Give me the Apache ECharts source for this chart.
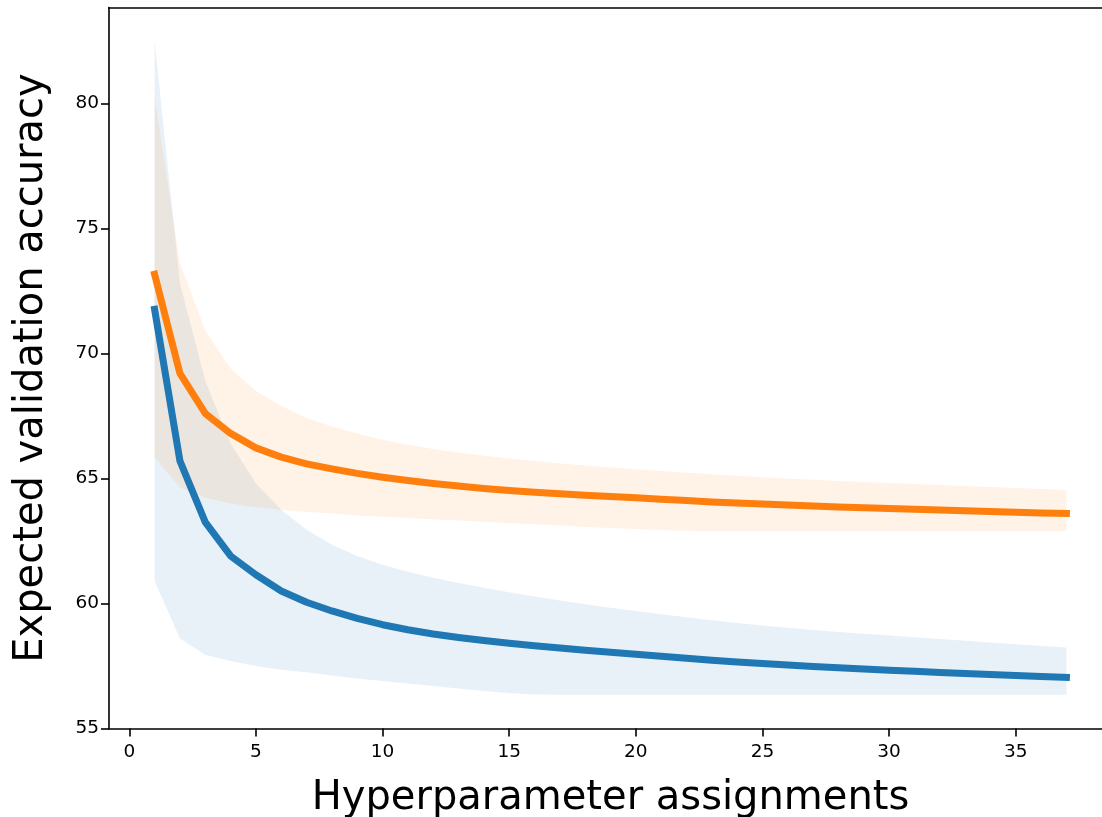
<!DOCTYPE html>
<html>
<head>
<meta charset="utf-8">
<script src="https://cdn.jsdelivr.net/npm/echarts@6/dist/echarts.min.js"></script>
<style>
  html, body { margin: 0; padding: 0; background: #fff; overflow: hidden; }
  #chart { width: 1102px; height: 817px; }
</style>
</head>
<body>
<div id="chart"></div>
<script>
// Number of hyperparameter assignments (x values)
const steps = [1, 2, 3, 4, 5, 6, 7, 8, 9, 10, 11, 12, 13, 14, 15, 16, 17, 18, 19,
               20, 21, 22, 23, 24, 25, 26, 27, 28, 29, 30, 31, 32, 33, 34, 35, 36, 37];

// Blue model: expected validation accuracy and its band
const blueMean  = [71.76, 65.7, 63.25, 61.9, 61.15, 60.5, 60.05, 59.7, 59.4, 59.15, 58.95, 58.78, 58.64, 58.52, 58.41, 58.31, 58.22, 58.13, 58.05,
                   57.97, 57.89, 57.81, 57.73, 57.66, 57.6, 57.54, 57.48, 57.43, 57.38, 57.33, 57.29, 57.24, 57.2, 57.16, 57.12, 57.08, 57.04];
const blueUpper = [82.5, 72.8, 68.9, 66.4, 64.8, 63.75, 62.95, 62.35, 61.9, 61.55, 61.27, 61.03, 60.82, 60.63, 60.45, 60.28, 60.12, 59.97, 59.83,
                   59.7, 59.57, 59.45, 59.33, 59.22, 59.12, 59.03, 58.94, 58.86, 58.79, 58.72, 58.65, 58.58, 58.51, 58.44, 58.37, 58.3, 58.24];
const blueLower = [60.9, 58.6, 57.95, 57.7, 57.5, 57.35, 57.25, 57.12, 57.0, 56.9, 56.8, 56.7, 56.6, 56.5, 56.42, 56.36, 56.35, 56.35, 56.35,
                   56.35, 56.35, 56.35, 56.35, 56.35, 56.35, 56.35, 56.35, 56.35, 56.35, 56.35, 56.35, 56.35, 56.35, 56.35, 56.35, 56.35, 56.35];

// Orange model: expected validation accuracy and its band
const orangeMean  = [73.16, 69.2, 67.6, 66.8, 66.22, 65.85, 65.58, 65.38, 65.2, 65.05, 64.92, 64.8, 64.7, 64.6, 64.52, 64.45, 64.39, 64.33, 64.28,
                     64.23, 64.17, 64.12, 64.06, 64.02, 63.98, 63.94, 63.9, 63.86, 63.83, 63.8, 63.77, 63.74, 63.71, 63.68, 63.65, 63.62, 63.6];
const orangeUpper = [80.24, 73.6, 70.9, 69.4, 68.5, 67.9, 67.42, 67.08, 66.8, 66.55, 66.35, 66.18, 66.04, 65.91, 65.8, 65.7, 65.6, 65.52, 65.44,
                     65.37, 65.3, 65.23, 65.17, 65.11, 65.05, 65.0, 64.95, 64.9, 64.86, 64.82, 64.78, 64.74, 64.7, 64.66, 64.62, 64.58, 64.54];
const orangeLower = [65.84, 64.64, 64.24, 64.0, 63.85, 63.75, 63.67, 63.6, 63.52, 63.47, 63.42, 63.37, 63.32, 63.27, 63.22, 63.17, 63.12, 63.07, 63.02,
                     62.98, 62.94, 62.91, 62.9, 62.9, 62.9, 62.9, 62.9, 62.9, 62.9, 62.9, 62.9, 62.9, 62.9, 62.9, 62.9, 62.9, 62.9];

// Tick values
const xTicks = [0, 5, 10, 15, 20, 25, 30, 35];
const yTicks = [55, 60, 65, 70, 75, 80];

const FONT = 'DejaVu Sans';
const X_MIN = -0.8, X_MAX = 38.8;

function pairs(ys) {
  return steps.map((x, i) => [x, ys[i]]);
}

function lineSeries(ys, color) {
  return {
    type: 'line',
    data: pairs(ys),
    showSymbol: false,
    symbol: 'none',
    silent: true,
    lineStyle: { color: color, width: 7, cap: 'square', join: 'round' }
  };
}

const tickStyle = { color: '#000', width: 1.6 };

const chart = echarts.init(document.getElementById('chart'), null, { renderer: 'canvas' });

chart.setOption({
  animation: false,
  backgroundColor: '#ffffff',
  grid: {
    left: 109, top: 7.5, width: 1003, height: 721,
    outerBoundsMode: 'none',
    show: false
  },
  xAxis: [{
    type: 'value',
    position: 'bottom',
    min: X_MIN, max: X_MAX,
    name: 'Hyperparameter assignments',
    nameLocation: 'middle',
    nameGap: 50,
    nameTextStyle: { fontFamily: FONT, fontSize: 40, color: '#000' },
    splitLine: { show: false },
    axisLine: { show: true, onZero: false, lineStyle: { color: '#000', width: 1.6 } },
    axisTick: { show: true, inside: false, length: 8, lineStyle: tickStyle, customValues: xTicks },
    axisLabel: { fontFamily: FONT, fontSize: 18.5, color: '#000', margin: 14, customValues: xTicks }
  }, {
    // top spine
    type: 'value',
    position: 'top',
    min: X_MIN, max: X_MAX,
    splitLine: { show: false },
    axisLine: { show: true, onZero: false, lineStyle: { color: '#000', width: 1.6 } },
    axisTick: { show: false },
    axisLabel: { show: false }
  }],
  yAxis: {
    type: 'value',
    min: 55, max: 83.83,
    name: 'Expected validation accuracy',
    nameLocation: 'middle',
    nameGap: 57,
    nameTextStyle: { fontFamily: FONT, fontSize: 40, color: '#000' },
    splitLine: { show: false },
    axisLine: { show: true, onZero: false, lineStyle: { color: '#000', width: 1.6 } },
    axisTick: { show: true, inside: false, length: 8, lineStyle: tickStyle, customValues: yTicks },
    axisLabel: { fontFamily: FONT, fontSize: 18.5, color: '#000', margin: 10, customValues: yTicks }
  },
  series: [
    lineSeries(blueMean, '#1f77b4'),
    lineSeries(orangeMean, '#ff7f0e')
  ]
});

// Shaded bands between lower and upper bounds, placed through the chart's own axes
function bandPolygon(upper, lower, color) {
  const finder = { xAxisIndex: 0, yAxisIndex: 0 };
  const pts = [];
  for (let i = 0; i < steps.length; i++) pts.push(chart.convertToPixel(finder, [steps[i], upper[i]]));
  for (let i = steps.length - 1; i >= 0; i--) pts.push(chart.convertToPixel(finder, [steps[i], lower[i]]));
  return {
    type: 'polygon',
    z: 0,
    silent: true,
    shape: { points: pts },
    style: { fill: color, lineWidth: 0 }
  };
}

chart.setOption({
  graphic: [
    bandPolygon(blueUpper, blueLower, 'rgba(31,119,180,0.1)'),
    bandPolygon(orangeUpper, orangeLower, 'rgba(255,127,14,0.1)')
  ]
});
</script>
</body>
</html>
